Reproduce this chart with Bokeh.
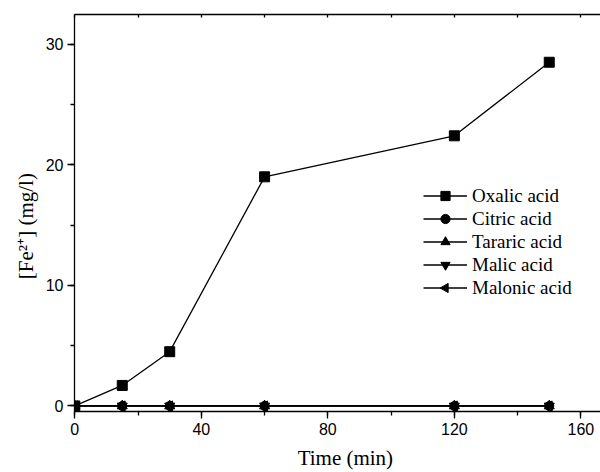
import math
from bokeh.plotting import figure
from bokeh.models import (Range1d, LinearAxis, SingleIntervalTicker, FixedTicker, Legend, LegendItem)
from bokeh.embed import file_html
from bokeh.resources import INLINE

# ---- data ----
time_min = [0, 15, 30, 60, 120, 150]
oxalic = [0.0, 1.7, 4.5, 19.0, 22.4, 28.5]
citric = [0.0, 0.0, 0.0, 0.0, 0.0, 0.0]
tararic = [0.0, 0.0, 0.0, 0.0, 0.0, 0.0]
malic = [0.0, 0.0, 0.0, 0.0, 0.0, 0.0]
malonic = [0.0, 0.0, 0.0, 0.0, 0.0, 0.0]
series_names = ["Oxalic acid", "Citric acid", "Tararic acid", "Malic acid", "Malonic acid"]
top_ticks = [0, 20, 40, 60, 80, 100, 120, 140, 160]
x_label = "\u00a0" * 3 + "Time (min)"
y_label = "[Fe\u00b2\u207a] (mg/l)" + "\u00a0" * 5

SERIF = "Liberation Serif"
SANS = "Liberation Sans"

X0, X1 = -0.1, 166.2
Y0, Y1 = -0.46, 32.46
W, H = 600, 472
BL, BT, BR, BB = 74, 14, 0, 61

p = figure(width=W, height=H, output_backend="svg", toolbar_location=None,
           x_range=Range1d(X0, X1), y_range=Range1d(Y0, Y1),
           min_border_left=BL, min_border_right=BR, min_border_top=BT, min_border_bottom=BB,
           x_axis_location=None, y_axis_location=None)
p.outline_line_color = None
p.xgrid.visible = False
p.ygrid.visible = False
p.background_fill_color = "white"
p.border_fill_color = "white"

xt = SingleIntervalTicker(interval=40, num_minor_ticks=2)
yt = SingleIntervalTicker(interval=10, num_minor_ticks=2)

def style(ax):
    ax.axis_line_color = "black"
    ax.axis_line_width = 1.3
    ax.major_tick_line_color = "black"
    ax.minor_tick_line_color = "black"
    ax.major_tick_line_width = 1.3
    ax.minor_tick_line_width = 1.3
    ax.major_tick_in = 0
    ax.major_tick_out = 7
    ax.minor_tick_in = 0
    ax.minor_tick_out = 4
    ax.major_label_text_font = SANS
    ax.major_label_text_color = "black"
    ax.major_label_text_font_size = "16px"
    ax.major_label_standoff = 4
    ax.axis_label_text_font = SERIF
    ax.axis_label_text_font_size = "21px"
    ax.axis_label_text_font_style = "normal"
    ax.axis_label_text_color = "black"

xb = LinearAxis(ticker=xt, axis_label=x_label)
style(xb)
xb.axis_label_standoff = 8
p.add_layout(xb, "below")

yl = LinearAxis(ticker=yt, axis_label=y_label)
style(yl)
yl.axis_label_standoff = 5
p.add_layout(yl, "left")

xa = LinearAxis(ticker=FixedTicker(ticks=[], minor_ticks=top_ticks))
xa.axis_line_color = "black"
xa.axis_line_width = 1.3
xa.minor_tick_line_color = "black"
xa.minor_tick_line_width = 1.3
xa.minor_tick_in = 3
xa.minor_tick_out = 0
xa.major_tick_in = 0
xa.major_tick_out = 0
p.add_layout(xa, "above")

# ---- series ----
ys = [oxalic, citric, tararic, malic, malonic]
markers = ["square", "circle", "triangle", "inverted_triangle", "triangle"]
angles = [0, 0, 0, 0, math.pi / 2]
sizes = [10, 9, 10, 10, 10]
items = []
for i, (name, yv, mk, ang, sz) in enumerate(zip(series_names, ys, markers, angles, sizes)):
    r1 = p.line(time_min, yv, line_color="black", line_width=1.3)
    r2 = p.scatter(time_min, yv, marker=mk, size=sz, angle=ang,
                   fill_color="black", line_color="black")
    if ang == 0:
        items.append(LegendItem(label=name, renderers=[r1, r2]))
    else:
        items.append(LegendItem(label=name, renderers=[r1]))

LEG_X, LEG_Y = 349, 112
GLYPH_W, ITEM_H = 44, 23
legend = Legend(items=items, location=(LEG_X, LEG_Y))
legend.background_fill_alpha = 0
legend.border_line_color = None
legend.padding = 0
legend.margin = 0
legend.spacing = 0
legend.glyph_width = GLYPH_W
legend.glyph_height = ITEM_H
legend.label_height = ITEM_H
legend.label_standoff = 5
legend.label_text_font = SERIF
legend.label_text_font_size = "19px"
legend.label_text_color = "black"
p.add_layout(legend)

# legend key for the left-pointing triangle (legend keys ignore marker angle)
frame_w = W - BL - BR
frame_h = H - BT - BB
kx = X0 + (LEG_X + GLYPH_W / 2) * (X1 - X0) / frame_w
ky = Y0 + (LEG_Y + ITEM_H / 2) * (Y1 - Y0) / frame_h
p.scatter([kx], [ky], marker="triangle", angle=math.pi / 2, size=9.2,
          fill_color="black", line_color="black")

open("out.html", "w").write(file_html(p, INLINE))
